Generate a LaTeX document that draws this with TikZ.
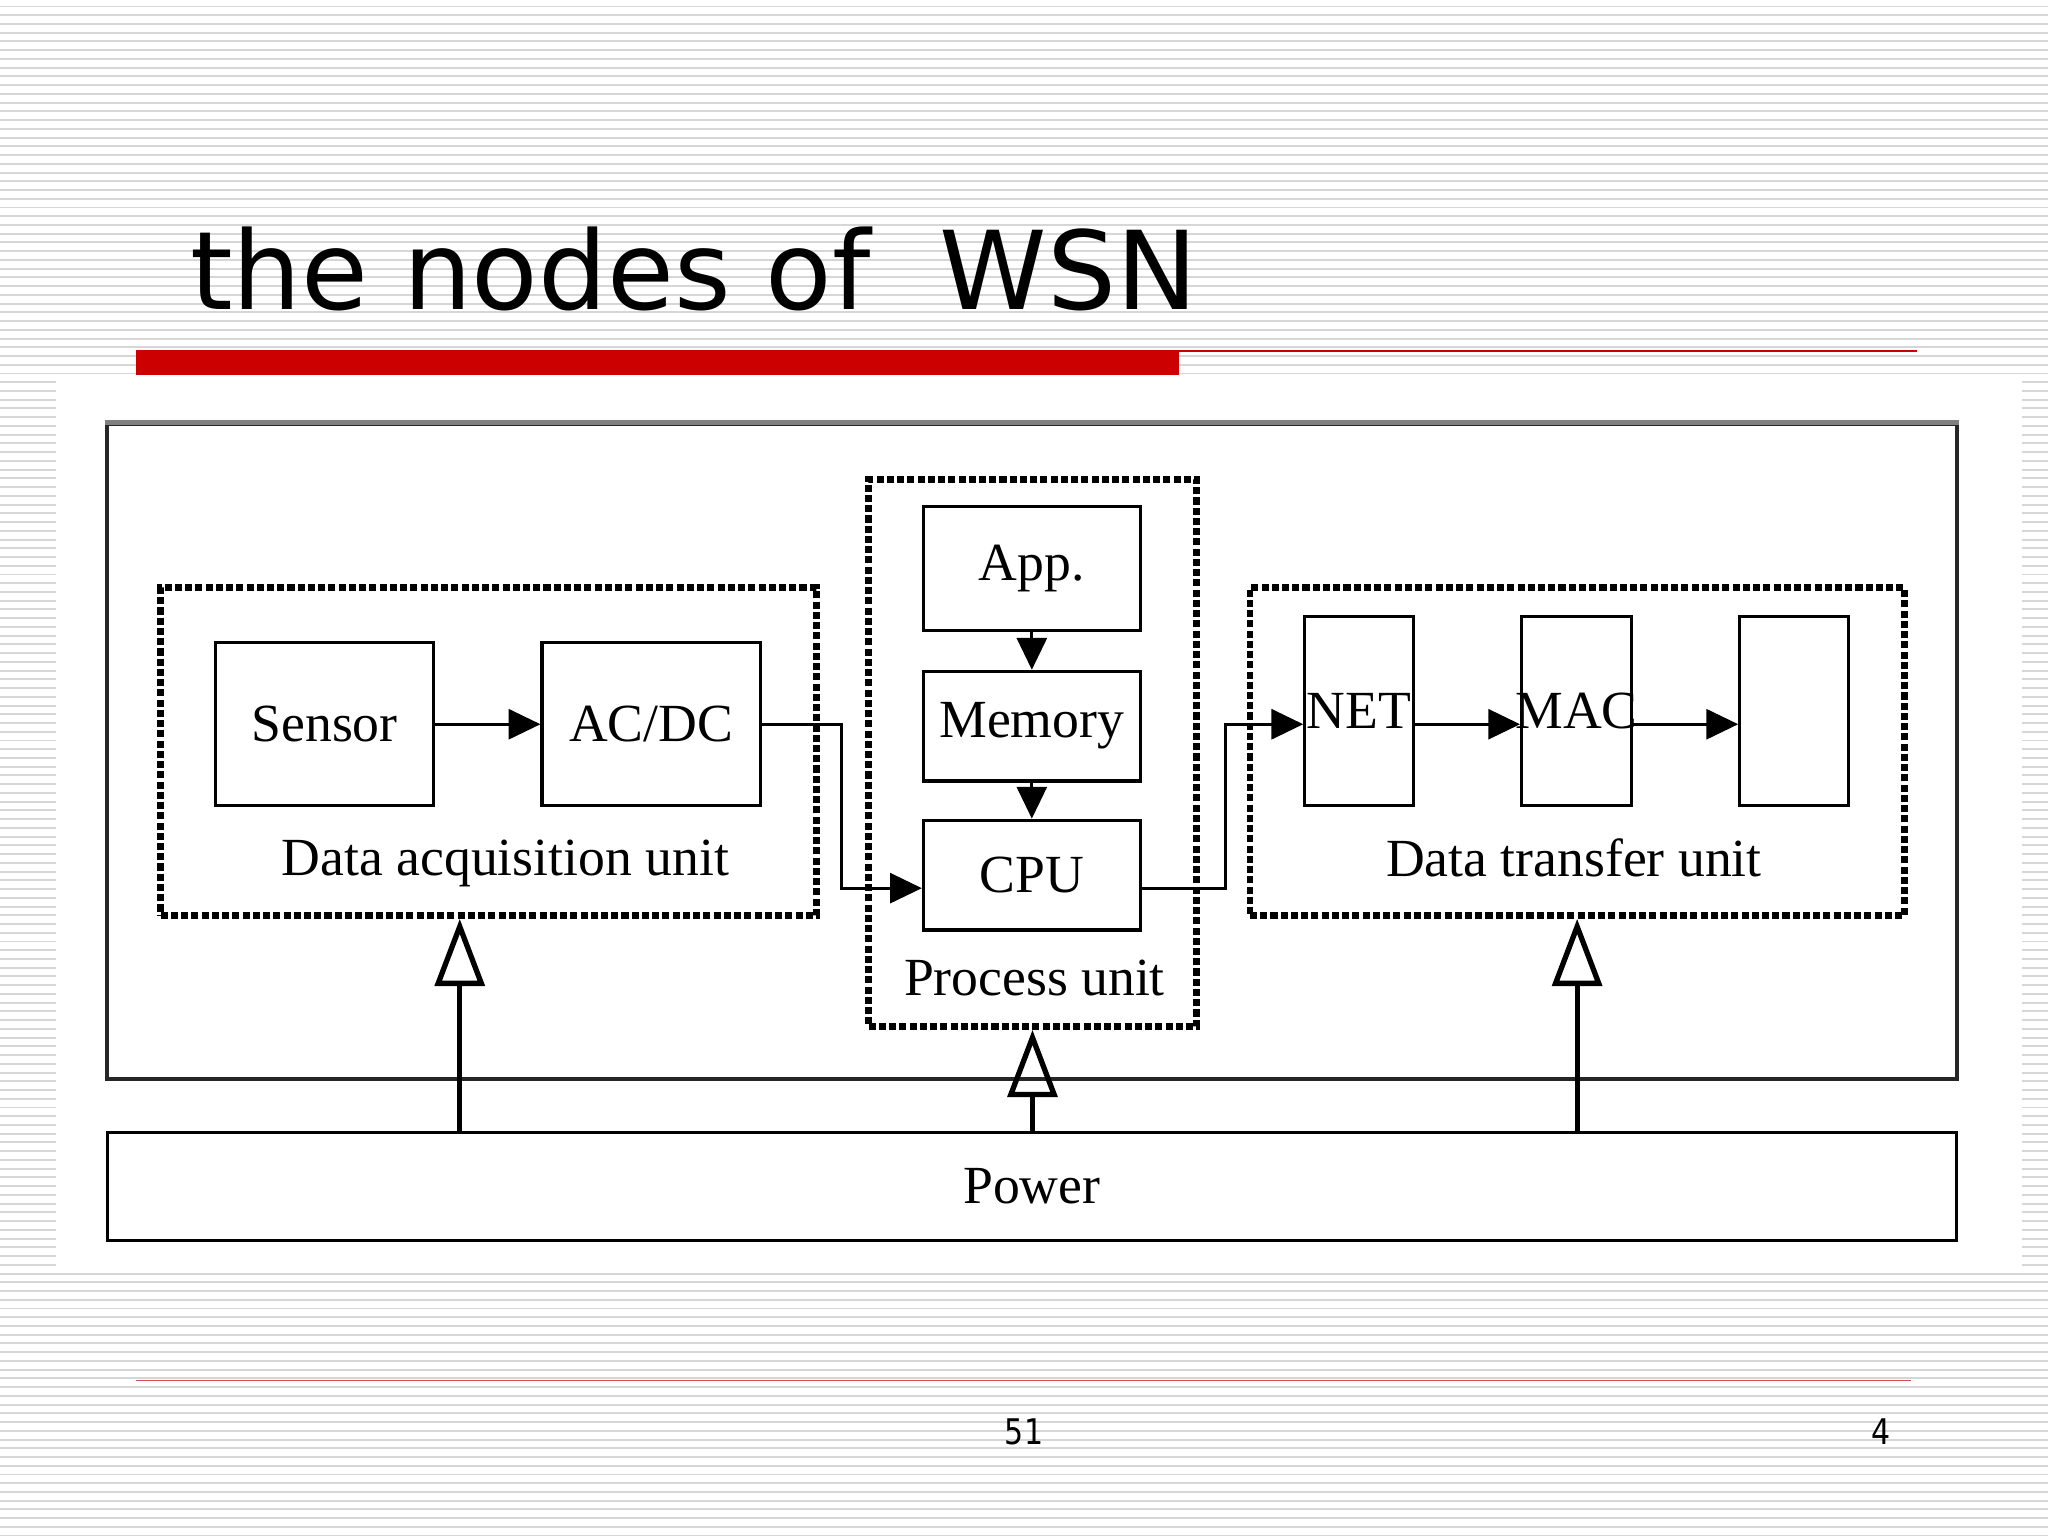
\documentclass[tikz,border=0pt]{standalone}
\usepackage{fontspec}
\setmainfont{Liberation Serif}
\newfontfamily\titlefont{DejaVu Sans}
\newfontfamily\pagefont[FakeStretch=0.85]{DejaVu Sans}
\usetikzlibrary{arrows.meta}
\definecolor{barred}{RGB}{204,0,0}
\definecolor{stripegray}{RGB}{214,214,214}

\begin{document}
\begin{tikzpicture}[x=0.013cm,y=-0.013cm,
        block/.style 2 args={draw,line width=0.9pt,inner sep=0pt,minimum width=#1*0.013cm,minimum height=#2*0.013cm,font=\fontsize{15.2}{18}\selectfont},
        unit box/.style 2 args={draw,line width=1.9pt,dash pattern=on 2pt off 0.9pt,inner sep=0pt,minimum width=#1*0.013cm,minimum height=#2*0.013cm},
        unit label/.style={anchor=base,inner sep=0pt,font=\fontsize{15.2}{18}\selectfont},
        data arrow/.style={-{Triangle[length=9pt,width=8.5pt]},line width=0.8pt},
        power arrow/.style={-{Triangle[open,length=19pt,width=14pt]},line width=1.5pt}]
        \useasboundingbox (0,0) rectangle (1568,1176);
        \foreach \i in {0,...,176}
            \draw[stripegray,line width=0.55pt] (0,5+\i*6.69) -- (1568,5+\i*6.69);
        \fill[white] (43,290) rectangle (1548,975);
        \node[anchor=base west,inner sep=0pt,font=\titlefont\fontsize{30.8}{36}\selectfont] (title) at (145,237) {the nodes of\ \ WSN};
        \fill[barred] (104,268) rectangle (903,287);
        \draw[barred,line width=0.6pt] (903,268.5) -- (1468,268.5);
        \node[draw=black!85,line width=1.1pt,minimum width=1416*0.013cm,minimum height=501*0.013cm] (sys) at (790,575.5) {};
        \draw[gray,line width=1.6pt] (sys.north west) -- (sys.north east);
        \node[block={1416}{83}] (power) at (790,908.5) {Power};
        \node[unit box={502}{251}] (acq) at (374,575.5) {};
        \node[unit box={251}{419}] (proc) at (790.5,576.5) {};
        \node[unit box={501}{251}] (trans) at (1207.5,575.5) {};
        \node[block={167}{125}] (sensor) at (248.5,554.5) {Sensor};
        \node[block={167}{125}] (acdc) at (498.5,554.5) {AC/DC};
        \node[block={166}{95}] (app) at (790,435.5) {App.};
        \node[block={166}{84}] (memory) at (790,556) {Memory};
        \node[block={166}{84}] (cpu) at (790,670) {CPU};
        \node[block={83}{145}] (net) at (1040.5,544.5) {\makebox[0pt]{NET}};
        \node[block={84}{145}] (mac) at (1207,544.5) {\makebox[0pt]{MAC}};
        \node[block={83}{145}] (phy) at (1373.5,544.5) {};
        \node[unit label] (acqlabel) at (387,670) {Data acquisition unit};
        \node[unit label] (proclabel) at (792,762) {Process unit};
        \node[unit label] (translabel) at (1205,671) {Data transfer unit};
        \draw[data arrow] (sensor) -- (acdc);
        \draw[data arrow] (acdc.east) -- ++(61,0) |- ([yshift=-3.7pt]cpu.west);
        \draw[data arrow] ([yshift=-3.7pt]cpu.east) -- ++(64,0) |- ([yshift=-3.7pt]net.west);
        \draw[data arrow] ([yshift=-3.7pt]net.east) -- ([yshift=-3.7pt]mac.west);
        \draw[data arrow] ([yshift=-3.7pt]mac.east) -- ([yshift=-3.7pt]phy.west);
        \draw[data arrow] (app) -- (memory);
        \draw[data arrow] (memory) -- (cpu);
        \draw[power arrow] ([xshift=-0.286cm]acq.south |- power.north) -- ([xshift=-0.286cm]acq.south);
        \draw[power arrow] (power.north -| proc.south) -- (proc.south);
        \draw[power arrow] (power.north -| trans.south) -- (trans.south);
        \draw[barred!70,line width=0.4pt] (104,1057) -- (1463,1057);
        \node[anchor=base,inner sep=0pt,font=\pagefont\fontsize{10}{12}\selectfont] (slideno) at (784,1106) {51};
        \node[anchor=base,inner sep=0pt,font=\pagefont\fontsize{10}{12}\selectfont] (pageno) at (1440,1106) {4};
    \end{tikzpicture}
\end{document}
